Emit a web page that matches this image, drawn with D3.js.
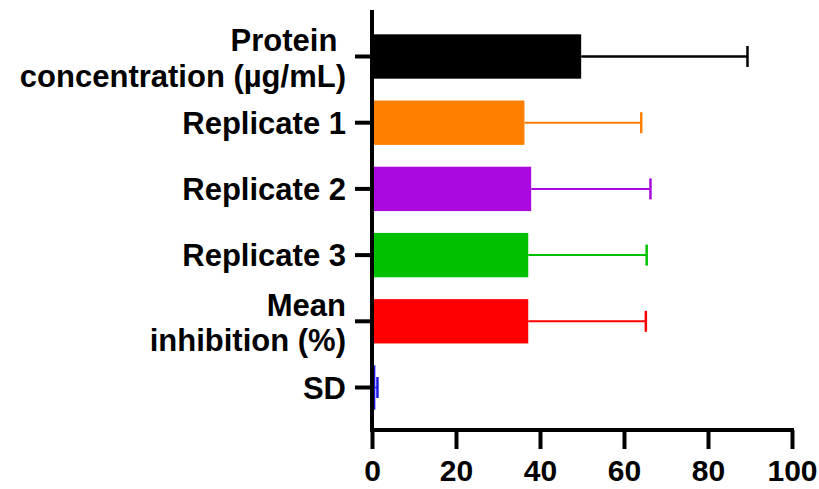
<!DOCTYPE html>
<html>
<head>
<meta charset="utf-8">
<script src="https://cdn.jsdelivr.net/npm/d3@7"></script>
<style>
  html, body { margin: 0; padding: 0; background: #fff; }
  svg { display: block; }
  text { font-family: "Liberation Sans", Arial, sans-serif; font-weight: bold; fill: #000; }
</style>
</head>
<body>
<svg id="chart" width="819" height="489"></svg>
<script>
// ---- data ----
const categories = ["Protein concentration (µg/mL)", "Replicate 1", "Replicate 2", "Replicate 3", "Mean inhibition (%)", "SD"];
const categoryLines = [["Protein\u00a0", "concentration (µg/mL)"], ["Replicate 1"], ["Replicate 2"], ["Replicate 3"], ["Mean", "inhibition (%)"], ["SD"]];
const values = [49.8, 36.3, 37.9, 37.2, 37.2, 0.8];
const errors = [39.6, 27.8, 28.4, 28.2, 28.0, 0.5];
const colors = ["#000000", "#ff8000", "#aa0ae0", "#00c000", "#ff0000", "#1a1ae6"];
const xTicks = [0, 20, 40, 60, 80, 100];

// ---- layout ----
const svg = d3.select("#chart");
const x0 = 372, x1 = 792;
const x = d3.scaleLinear().domain([0, 100]).range([x0, x1]);
const y = d3.scaleBand().domain(categories).range([23.4, 420.6]).paddingInner(0.33).paddingOuter(0.165);
const axisY = 430;

// bars
svg.append("g").selectAll("rect").data(categories).join("rect")
  .attr("x", x(0))
  .attr("y", d => y(d))
  .attr("width", (d, i) => x(values[i]) - x(0))
  .attr("height", y.bandwidth())
  .attr("fill", (d, i) => colors[i]);

// error bars
const eg = svg.append("g");
categories.forEach((c, i) => {
  const cy = y(c) + y.bandwidth() / 2;
  const xe = x(values[i] + errors[i]);
  const sw = i === 0 ? 2.5 : 2;
  eg.append("line").attr("x1", x(values[i])).attr("x2", xe).attr("y1", cy).attr("y2", cy)
    .attr("stroke", colors[i]).attr("stroke-width", sw);
  eg.append("line").attr("x1", xe).attr("x2", xe).attr("y1", cy - 10.5).attr("y2", cy + 10.5)
    .attr("stroke", colors[i]).attr("stroke-width", 2.5);
});

// y axis
const yAxis = d3.axisLeft(y).tickSize(17).tickFormat("");
const gy = svg.append("g").attr("transform", `translate(${x0},0)`).call(yAxis);
gy.select(".domain").remove();
gy.selectAll(".tick line").attr("stroke", "#000").attr("stroke-width", 4);
svg.append("line").attr("x1", x0).attr("x2", x0).attr("y1", 10).attr("y2", axisY + 2)
  .attr("stroke", "#000").attr("stroke-width", 4);

// y labels
const lg = svg.append("g");
categories.forEach((c, i) => {
  const cy = y(c) + y.bandwidth() / 2;
  const lines = categoryLines[i];
  const t = lg.append("text").attr("text-anchor", "end").attr("font-size", 31);
  if (lines.length === 1) {
    t.append("tspan").attr("x", 346).attr("y", cy + 11).text(lines[0]);
  } else {
    t.append("tspan").attr("x", 346).attr("y", cy - 5.5).text(lines[0]);
    t.append("tspan").attr("x", 346).attr("y", cy + 30).text(lines[1]);
  }
});

// x axis
const xAxis = d3.axisBottom(x).tickValues(xTicks).tickSize(19).tickPadding(6).tickFormat(d3.format("d"));
const gx = svg.append("g").attr("transform", `translate(0,${axisY})`).call(xAxis);
gx.select(".domain").remove();
gx.selectAll(".tick line").attr("stroke", "#000").attr("stroke-width", 4);
gx.selectAll(".tick text").attr("font-size", 30).attr("font-family", "Liberation Sans, Arial, sans-serif")
  .attr("font-weight", "bold").attr("fill", "#000").attr("dy", null).attr("y", 51);
svg.append("line").attr("x1", x0 - 2).attr("x2", x1 + 2).attr("y1", axisY).attr("y2", axisY)
  .attr("stroke", "#000").attr("stroke-width", 4);
</script>
</body>
</html>
